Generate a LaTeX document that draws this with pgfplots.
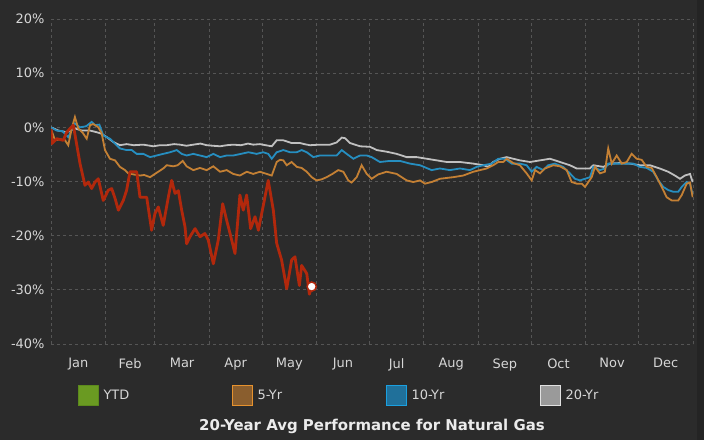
\documentclass[border=0pt]{standalone}
\usepackage{fontspec}
\setmainfont{DejaVu Sans}
\usepackage{pgfplots}
\pgfplotsset{compat=1.18}
\definecolor{bg}{RGB}{43,43,43}
\definecolor{bgdark}{RGB}{36,36,36}
\definecolor{gridc}{RGB}{85,85,85}
\definecolor{txt}{RGB}{215,215,215}
\definecolor{ttl}{RGB}{235,235,235}
\definecolor{ytdline}{RGB}{178,40,12}
\definecolor{fiveline}{RGB}{196,128,52}
\definecolor{tenline}{RGB}{38,142,192}
\definecolor{twentyline}{RGB}{192,192,192}
\definecolor{ytdfill}{RGB}{106,154,34}
\definecolor{ytdborder}{RGB}{92,138,28}
\definecolor{fivefill}{RGB}{138,94,46}
\definecolor{fiveborder}{RGB}{230,146,46}
\definecolor{tenfill}{RGB}{32,112,154}
\definecolor{tenborder}{RGB}{26,160,224}
\definecolor{twentyfill}{RGB}{154,154,154}
\definecolor{twentyborder}{RGB}{225,225,225}
\begin{document}
\begin{tikzpicture}[x=1bp,y=1bp]
\fill[bg] (0,0) rectangle (704,440);
\fill[bgdark] (697,0) rectangle (704,440);
\begin{axis}[
  at={(51bp,96bp)}, anchor=south west,
  scale only axis, width=642bp, height=325bp,
  xmin=0, xmax=365, ymin=-40, ymax=20,
  axis line style={draw=none},
  tick style={draw=none},
  xtick={15.5,45,74.5,105,135.5,166,196.5,227.5,258,288.5,319,349.5},
  xticklabels={Jan,Feb,Mar,Apr,May,Jun,Jul,Aug,Sep,Oct,Nov,Dec},
  minor xtick={0,31,59,90,120,151,181,212,243,273,304,334,365},
  ytick={-40,-30,-20,-10,0,10,20},
  yticklabels={-40\%,-30\%,-20\%,-10\%,0\%,10\%,20\%},
  xmajorgrids=false, xminorgrids=true, ymajorgrids=true,
  major grid style={gridc, dash pattern=on 3bp off 3bp, line width=0.8bp},
  minor grid style={gridc, dash pattern=on 3bp off 3bp, line width=0.8bp},
  ticklabel style={font=\fontsize{13}{15}\selectfont, text=txt},
  xticklabel style={yshift=-11bp},
  yticklabel style={xshift=-3bp},
  title={20-Year Avg Performance for Natural Gas},
  title style={at={(axis description cs:0.5,-0.246)}, anchor=center, yshift=-8bp,
    font=\bfseries\fontsize{15}{17}\selectfont, text=ttl},
  legend columns=4,
  reverse legend,
  legend style={at={(axis description cs:0.041,-0.1585)}, anchor=west,
    draw=none, fill=none, inner sep=0pt,
    nodes={inner sep=0pt, text=txt, font=\fontsize{13}{15}\selectfont}},
]
% 20-Yr
\addplot[twentyline, line width=1.8bp,
  legend image code/.code={\filldraw[fill=twentyfill, draw=twentyborder, line width=1.2bp] (0bp,-10bp) rectangle (20bp,10bp); \path (24bp,0bp);}]
coordinates {
(0,0) (4.2,-0.6) (8.9,-0.9) (13.6,-0.2) (17.5,-0.6) (22.2,-0.6) (26,-0.9) (28.8,-1.2)
(31.7,-1.8) (35.4,-2.7) (39.2,-3.3) (43,-3.1) (47,-3.3) (52.5,-3.2) (58.2,-3.5) (62,-3.3)
(65.8,-3.3) (70,-3.1) (73.3,-3.2) (77,-3.4) (80.9,-3.2) (85,-3.0) (88.5,-3.3) (92,-3.4)
(96.1,-3.5) (100,-3.3) (103.6,-3.2) (108,-3.3) (112,-3.0) (115,-3.2) (118.8,-3.1) (122,-3.3)
(125.5,-3.5) (128.3,-2.4) (132.1,-2.4) (136.8,-2.9) (141.6,-2.9) (144,-3.1) (147.2,-3.3)
(152.9,-3.2) (158.6,-3.2) (162.4,-2.8) (165.3,-1.9) (167.1,-2.0) (170,-2.9) (175.7,-3.5)
(181.4,-3.6) (185.2,-4.2) (190.8,-4.5) (196.5,-4.9) (202.2,-5.5) (207.9,-5.5) (213.6,-5.8)
(219.3,-6.1) (225,-6.4) (232.5,-6.4) (240.1,-6.7) (245.8,-7.0) (248.6,-7.3) (251.4,-6.4)
(255.3,-5.8) (259.1,-5.5) (262.8,-5.8) (266.6,-6.1) (272.3,-6.4) (278,-6.1) (283.7,-5.8)
(289.4,-6.4) (295,-7.0) (298.9,-7.6) (306.4,-7.6) (308.3,-7.0) (314,-7.3) (317.8,-6.7)
(323,-6.6) (329.2,-6.7) (334.8,-7.0) (340.5,-7.0) (346.1,-7.6) (350.9,-8.2) (354.7,-8.9)
(357.6,-9.5) (360.4,-8.9) (363.3,-8.6) (364.8,-10.1)
};
\addlegendentry{\makebox[128.5bp][l]{20-Yr}}
% 10-Yr
\addplot[tenline, line width=1.8bp,
  legend image code/.code={\filldraw[fill=tenfill, draw=tenborder, line width=1.2bp] (0bp,-10bp) rectangle (20bp,10bp); \path (24bp,0bp);}]
coordinates {
(0,0) (3.2,-0.6) (6.5,-0.7) (9.8,-1.8) (13.6,0.7) (16.5,0) (20,0.2) (23.1,1.0) (25,0.4)
(27.5,0.5) (29.7,-1.5) (33.5,-2.1) (36.4,-3.0) (39.2,-3.9) (43,-4.2) (45.9,-4.2) (48.7,-4.9)
(52.5,-4.9) (56.3,-5.5) (60.1,-5.2) (63.8,-4.9) (67.7,-4.6) (71.5,-4.2) (74.3,-4.9)
(77.1,-5.2) (80.9,-4.9) (84.7,-5.2) (88.5,-5.5) (92.3,-4.9) (96.1,-5.5) (99.9,-5.2)
(103.6,-5.2) (108,-4.9) (112.2,-4.6) (116.9,-4.9) (120.7,-4.6) (123.5,-4.9) (125.5,-5.8)
(128.3,-4.6) (132.1,-4.2) (135.9,-4.6) (139.7,-4.6) (142.5,-4.2) (145.4,-4.6) (149.1,-5.5)
(152.9,-5.2) (157.6,-5.2) (162.4,-5.2) (165.3,-4.2) (168.1,-4.9) (171.9,-5.8) (175.7,-5.2)
(179.5,-5.2) (182.3,-5.5) (187,-6.4) (192.7,-6.2) (198.4,-6.2) (204.1,-6.7) (209.8,-7.0)
(216.4,-7.9) (221.1,-7.6) (226.8,-7.9) (232.5,-7.6) (238.2,-7.9) (242,-7.3) (245.8,-7.0)
(250.5,-6.7) (254.3,-5.8) (258.1,-5.8) (261.9,-6.7) (266.6,-6.7) (270.4,-7.0) (273.3,-8.2)
(276.1,-7.3) (279.9,-7.9) (282.7,-7.0) (286.5,-6.7) (291.2,-7.3) (295,-8.5) (297.9,-9.5)
(300.7,-9.8) (303.6,-9.5) (306.4,-9.2) (308.3,-7.3) (312.1,-7.9) (314.9,-7.6) (316.8,-6.7)
(319.7,-6.7) (323.5,-6.7) (327.3,-6.7) (331,-6.7) (334.8,-7.3) (338.7,-7.5) (342.4,-8.2)
(345.3,-9.8) (348.1,-11.0) (351,-11.6) (353.8,-11.9) (356.6,-11.9) (358.6,-11.0)
(361.4,-10.1) (363.3,-10.4) (364.8,-12.5)
};
\addlegendentry{\makebox[128.5bp][l]{10-Yr}}
% 5-Yr
\addplot[fiveline, line width=1.8bp,
  legend image code/.code={\filldraw[fill=fivefill, draw=fiveborder, line width=1.2bp] (0bp,-10bp) rectangle (20bp,10bp); \path (24bp,0bp);}]
coordinates {
(0,-0.3) (2.3,-2.4) (5,-2.2) (8,-2.4) (9.8,-3.3) (11.8,-0.2) (13.6,1.9) (15.5,-0.2)
(18,-1.0) (20.3,-2.1) (22.2,0.4) (24,0.6) (26.9,0) (28.8,-1.1) (30.7,-4.2) (33.5,-5.8)
(36.4,-6.1) (39.2,-7.3) (42.1,-7.9) (43.9,-8.5) (47,-8.7) (50.6,-8.9) (53,-8.8) (56.3,-9.2)
(59.1,-8.6) (63.8,-7.6) (65.8,-7.0) (69.5,-7.2) (72,-7.0) (74.9,-6.2) (77.1,-7.2)
(80.9,-7.9) (84.7,-7.5) (88.5,-7.9) (92.3,-7.2) (96.1,-8.2) (99.9,-7.9) (103.6,-8.6)
(107.4,-8.9) (111.3,-8.2) (115,-8.6) (118.8,-8.2) (122.6,-8.6) (125.5,-8.9) (128.3,-6.4)
(130.2,-6.0) (132.1,-6.1) (134,-7.0) (136.8,-6.4) (139.7,-7.3) (142.5,-7.5) (145.4,-8.2)
(148.2,-9.2) (151,-9.8) (153.9,-9.6) (156.7,-9.2) (160,-8.6) (163.3,-7.9) (166.2,-8.2)
(169,-9.8) (170.9,-10.2) (173.8,-9.2) (176.6,-7.0) (179.5,-8.6) (182.3,-9.5) (186,-8.7)
(190.8,-8.2) (196.5,-8.6) (202.2,-9.8) (206,-10.1) (209.8,-9.8) (212.6,-10.4) (216.4,-10.1)
(221.1,-9.5) (228.7,-9.2) (234.4,-8.9) (240.1,-8.2) (243.9,-7.9) (247.7,-7.6) (251.4,-7.0)
(254.3,-6.4) (257.1,-6.4) (259.1,-5.8) (262.8,-6.6) (266.6,-7.0) (270.4,-8.5) (273.3,-9.8)
(275.2,-7.9) (278,-8.5) (280.8,-7.6) (285.6,-7.0) (289.4,-7.2) (293.2,-7.9) (296,-10.1)
(298.9,-10.4) (301.7,-10.4) (303.6,-11.0) (305.5,-10.1) (307.4,-9.2) (309.3,-7.3)
(312.1,-8.5) (314.9,-8.2) (316.8,-3.9) (318.8,-6.7) (321.6,-5.2) (324.5,-6.7) (327.3,-6.4)
(330.1,-4.9) (333,-5.8) (335.8,-6.0) (338.7,-7.3) (341.5,-7.5) (344.4,-9.2) (347.2,-11.0)
(350,-12.9) (352.9,-13.5) (356.6,-13.5) (358.6,-12.5) (361.4,-10.4) (363.3,-10.2) (364.8,-12.9)
};
\addlegendentry{\makebox[128.5bp][l]{5-Yr}}
% YTD
\addplot[ytdline, line width=2.8bp, line join=round,
  legend image code/.code={\filldraw[fill=ytdfill, draw=ytdborder, line width=1.2bp] (0bp,-10bp) rectangle (20bp,10bp); \path (24bp,0bp);}]
coordinates {
(0,-0.3) (0.5,-3.0) (3.2,-2.1) (7,-2.4) (8.9,-0.9) (12.7,0.4) (16.5,-6.7) (19.3,-10.7)
(21.2,-10.1) (23.1,-11.3) (25,-10.1) (26.9,-9.5) (29.7,-13.5) (32.6,-11.6) (34.5,-11.3)
(36.4,-13.1) (38.3,-15.3) (41.1,-13.5) (43,-11.6) (44.9,-8.2) (48.7,-8.2) (50.6,-12.9)
(54.4,-12.9) (57.2,-19.0) (59.1,-15.9) (61,-14.7) (63.8,-18.1) (66.7,-12.9) (68.6,-9.8)
(70.5,-12.2) (72.4,-11.7) (74.3,-15.3) (76.2,-18.4) (77.1,-21.5) (79,-20.2) (81.9,-18.7)
(84.7,-20.2) (87.5,-19.6) (89.4,-20.8) (92.3,-25.2) (95.1,-20.8) (97.6,-14.1) (99.9,-17.2)
(101.8,-19.6) (104.6,-23.3) (107.4,-12.5) (109.3,-15.3) (111.2,-12.5) (113.5,-18.7)
(116,-16.5) (117.9,-19) (119.8,-15.9) (123.5,-9.8) (126.4,-15.3) (128.3,-21.4) (131.1,-24.5)
(134,-29.8) (136.8,-24.5) (138.7,-23.9) (141.2,-29.2) (142.5,-25.5) (145.4,-27)
(146.9,-30.8) (148.2,-29.4)
};
\addlegendentry{\makebox[128.5bp][l]{YTD}}
\addplot[forget plot, only marks, mark=*, mark size=4.6bp,
  mark options={fill=white, draw=ytdline, line width=1.5bp}]
coordinates {(148.2,-29.4)};
\end{axis}
\end{tikzpicture}
\end{document}
